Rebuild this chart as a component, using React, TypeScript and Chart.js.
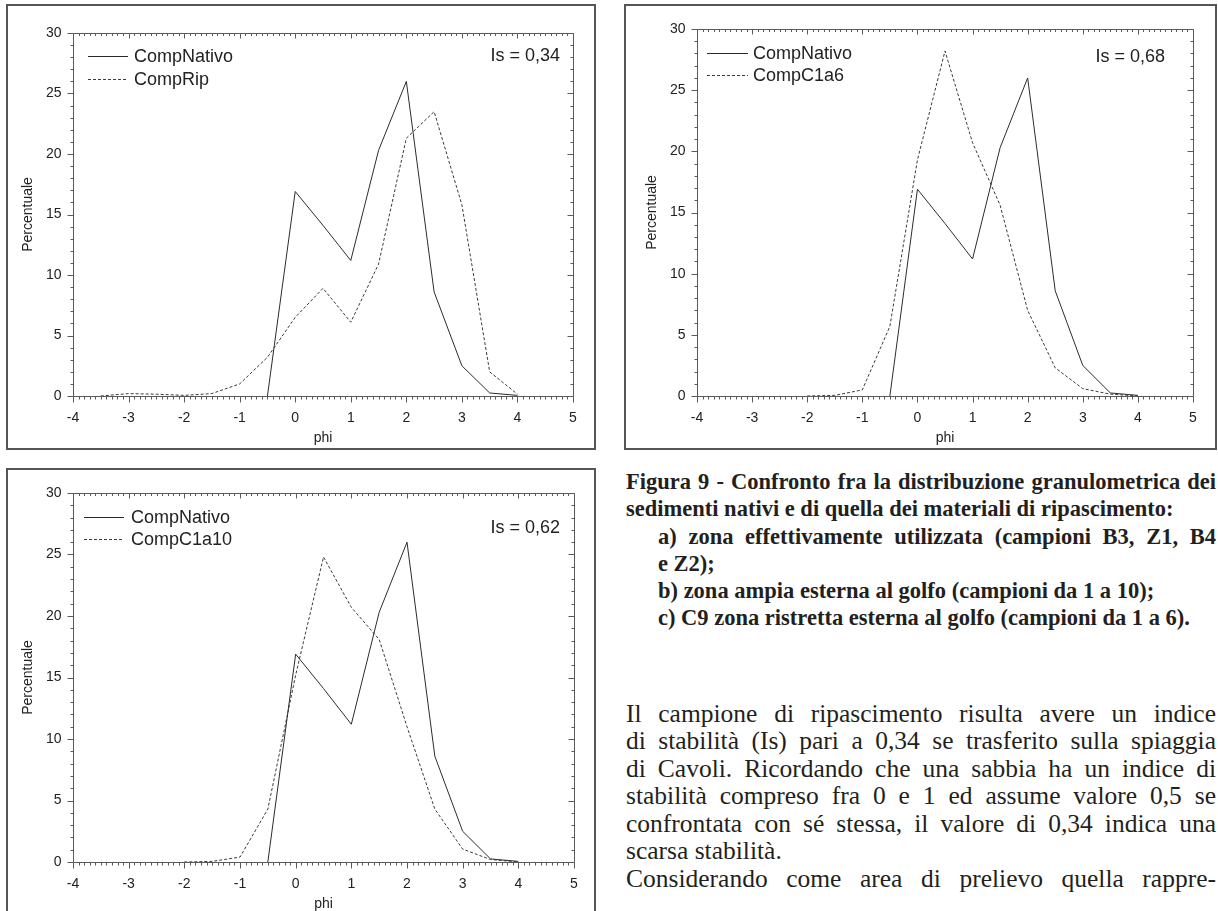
import React, { useEffect, useRef } from "react";
import { Chart, registerables } from "chart.js";

Chart.register(...registerables);

// ---- data ----
const phi = [-4, -3.5, -3, -2.5, -2, -1.5, -1, -0.5, 0, 0.5, 1, 1.5, 2, 2.5, 3, 3.5, 4];
const compNativo = [null, null, null, null, null, null, null, 0, 16.9, 14.1, 11.2, 20.3, 26.0, 8.6, 2.5, 0.25, 0.05];
const compRip = [null, 0, 0.2, 0.15, 0.05, 0.2, 1.0, 3.2, 6.5, 8.9, 6.1, 10.9, 21.3, 23.5, 15.8, 2.0, 0.15];
const compC1a6 = [null, null, null, null, 0, 0.05, 0.5, 5.7, 19.3, 28.2, 20.7, 15.6, 7.0, 2.3, 0.6, 0.15, 0];
const compC1a10 = [null, null, null, null, 0, 0.05, 0.4, 4.3, 15.2, 24.8, 20.7, 18.1, 11.0, 4.3, 1.05, 0.2, 0];

const xTickValues = [-4, -3, -2, -1, 0, 1, 2, 3, 4, 5];
const yTickValues = [0, 5, 10, 15, 20, 25, 30];
const xTitle = "phi";
const yTitle = "Percentuale";
const isLabels = ["Is = 0,34", "Is = 0,68", "Is = 0,62"];

const captionLines = [
  "Figura 9 - Confronto fra la distribuzione granulometrica dei",
  "sedimenti nativi e di quella dei materiali di ripascimento:",
  "a) zona effettivamente utilizzata (campioni B3, Z1, B4",
  "e Z2);",
  "b) zona ampia esterna al golfo (campioni da 1 a 10);",
  "c) C9 zona ristretta esterna al golfo (campioni da 1 a 6).",
];
const bodyLines = [
  "Il campione di ripascimento risulta avere un indice",
  "di stabilità (Is) pari a 0,34 se trasferito sulla spiaggia",
  "di Cavoli. Ricordando che una sabbia ha un indice di",
  "stabilità compreso fra 0 e 1 ed assume valore 0,5 se",
  "confrontata con sé stessa, il valore di 0,34 indica una",
  "scarsa stabilità.",
  "Considerando come area di prelievo quella rappre-",
];

// ---- styles ----
const SANS = "'Liberation Sans', Arial, sans-serif";
const SERIF = "'Liberation Serif', 'Times New Roman', serif";
const AXIS = "#5a5a5a";
const INK = "#222222";

const framePlugin = {
  id: "frame",
  afterDraw(chart: any) {
    const o = chart.options.plugins.frame;
    const ctx = chart.ctx;
    const a = chart.chartArea;
    const xs = chart.scales.x;
    const ys = chart.scales.y;
    ctx.save();
    ctx.strokeStyle = AXIS;
    ctx.lineWidth = 1;
    const L = Math.round(a.left) + 0.5;
    const R = Math.round(a.right) + 0.5;
    const T = Math.round(a.top) + 0.5;
    const B = Math.round(a.bottom) + 0.5;
    ctx.beginPath();
    ctx.rect(L, T, R - L, B - T);
    ctx.stroke();
    ctx.beginPath();
    for (let v = ys.min; v <= ys.max + 1e-9; v += 1) {
      const y = Math.round(ys.getPixelForValue(v)) + 0.5;
      const major = Math.abs(v % 5) < 1e-6;
      const len = major ? 6 : 3;
      ctx.moveTo(L - len, y);
      ctx.lineTo(L, y);
      ctx.moveTo(R - len, y);
      ctx.lineTo(R, y);
    }
    for (let i = Math.round(xs.min * 10); i <= Math.round(xs.max * 10); i++) {
      const x = Math.round(xs.getPixelForValue(i / 10)) + 0.5;
      const major = i % 10 === 0;
      const len = major ? 6 : 3;
      ctx.moveTo(x, B);
      ctx.lineTo(x, B + len);
      ctx.moveTo(x, T);
      ctx.lineTo(x, T + (major ? 5 : 2.5));
    }
    ctx.stroke();

    // legend
    ctx.font = `18px ${SANS}`;
    ctx.textBaseline = "middle";
    ctx.fillStyle = INK;
    chart.data.datasets.forEach((ds: any, i: number) => {
      const y = Math.round(a.top + o.rows[i]) + 0.5;
      ctx.save();
      ctx.strokeStyle = ds.borderColor;
      ctx.lineWidth = 1;
      ctx.setLineDash(ds.borderDash || []);
      ctx.beginPath();
      ctx.moveTo(a.left + o.s0, y);
      ctx.lineTo(a.left + o.s1, y);
      ctx.stroke();
      ctx.restore();
      ctx.textAlign = "left";
      ctx.fillText(ds.label, a.left + o.tx, y + 1);
    });
    ctx.textAlign = "right";
    ctx.fillText(o.isText, a.right - o.isDx, a.top + o.isDy);
    ctx.restore();
  },
};

type Box = { x: number; y: number; w: number; h: number };
type Plot = { l: number; t: number; r: number; b: number };

function Panel(props: {
  box: Box;
  plot: Plot;
  series: { label: string; data: (number | null)[]; dash: number[]; color: string }[];
  legend: { s0: number; s1: number; tx: number; rows: number[] };
  isText: string;
  isDx: number;
  isDy: number;
}) {
  const ref = useRef<HTMLCanvasElement>(null);
  const { box, plot } = props;
  const cw = box.w - 4;
  const ch = box.h - 4;
  useEffect(() => {
    const ox = box.x + 2;
    const oy = box.y + 2;
    const pl = plot.l - ox;
    const pt = plot.t - oy;
    const pr = plot.r - ox;
    const pb = plot.b - oy;
    const tickFont = { family: SANS, size: 14 };
    const titleFont = { family: SANS, size: 14 };
    const titleLH = 14 * 1.2;
    const xTitleCenter = plot.b + 42 - oy;
    const yTitleCenter = plot.l - 45 - ox;
    const chart = new Chart(ref.current as HTMLCanvasElement, {
      type: "line",
      data: {
        datasets: props.series.map((s) => ({
          label: s.label,
          data: phi.map((x, i) => ({ x, y: s.data[i] })),
          borderColor: s.color,
          borderWidth: 1,
          borderDash: s.dash,
          pointRadius: 0,
          fill: false,
          tension: 0,
        })),
      },
      plugins: [framePlugin],
      options: {
        responsive: false,
        animation: false,
        devicePixelRatio: 1,
        events: [],
        layout: { padding: { left: 0, top: pt, right: cw - pr, bottom: 0 } },
        plugins: {
          legend: { display: false },
          tooltip: { enabled: false },
          frame: {
            s0: props.legend.s0,
            s1: props.legend.s1,
            tx: props.legend.tx,
            rows: props.legend.rows,
            isText: props.isText,
            isDx: props.isDx,
            isDy: props.isDy,
          },
        } as any,
        scales: {
          x: {
            type: "linear",
            min: -4,
            max: 5,
            afterBuildTicks: (s: any) => {
              s.ticks = xTickValues.map((v) => ({ value: v }));
            },
            ticks: { font: tickFont, color: INK, padding: 8, maxRotation: 0, autoSkip: false },
            grid: { display: false, drawTicks: true, tickLength: 6 },
            border: { display: false },
            title: {
              display: true,
              text: xTitle,
              font: titleFont,
              color: INK,
              padding: { top: 0, bottom: ch - xTitleCenter - titleLH / 2 },
            },
            afterFit: (s: any) => {
              s.height = ch - pb;
            },
          },
          y: {
            type: "linear",
            min: 0,
            max: 30,
            afterBuildTicks: (s: any) => {
              s.ticks = yTickValues.map((v) => ({ value: v }));
            },
            ticks: { font: tickFont, color: INK, padding: 4.5, autoSkip: false },
            grid: { display: false, drawTicks: true, tickLength: 7 },
            border: { display: false },
            title: {
              display: true,
              text: yTitle,
              font: titleFont,
              color: INK,
              padding: { top: yTitleCenter - titleLH / 2, bottom: 0 },
            },
            afterFit: (s: any) => {
              s.width = pl;
            },
          },
        },
      } as any,
    });
    return () => chart.destroy();
  }, []);
  return (
    <div
      style={{
        position: "absolute",
        left: box.x,
        top: box.y,
        width: box.w,
        height: box.h,
        border: "2px solid #555",
        boxSizing: "border-box",
        background: "#fff",
      }}
    >
      <canvas ref={ref} width={cw} height={ch} style={{ display: "block", width: cw, height: ch }} />
    </div>
  );
}

const SOLID = "#2b2b2b";
const DASHED = "#3a3a3a";

function Line(props: { text: string; left: number; right: number; center: number; justify: boolean; bold?: boolean; size: number }) {
  const lh = 27;
  return (
    <div
      style={{
        position: "absolute",
        left: props.left,
        width: props.right - props.left,
        top: props.center - lh / 2,
        height: lh,
        lineHeight: `${lh}px`,
        fontFamily: SERIF,
        fontWeight: props.bold ? 700 : 400,
        fontSize: props.size,
        color: "#231f20",
        textAlign: props.justify ? "justify" : "left",
        textAlignLast: props.justify ? "justify" : "left",
      } as any}
    >
      {props.text}
    </div>
  );
}

export default function App() {
  const capCenters = [481, 508, 536, 563, 590, 617];
  const capLeft = [626, 626, 658, 658, 658, 658];
  const capJustify = [true, false, true, false, false, false];
  const bodyCenters = [713, 740, 768, 795, 823, 850, 878];
  const bodyJustify = [true, true, true, true, true, false, true];
  return (
    <div
      style={{
        position: "fixed",
        left: 0,
        top: 0,
        width: 1218,
        height: 911,
        overflow: "hidden",
        background: "#fff",
      }}
    >
      <Panel
        box={{ x: 6, y: 4, w: 590, h: 446 }}
        plot={{ l: 73, t: 33, r: 573, b: 396 }}
        series={[
          { label: "CompNativo", data: compNativo, dash: [], color: SOLID },
          { label: "CompRip", data: compRip, dash: [3, 2], color: DASHED },
        ]}
        legend={{ s0: 15, s1: 55, tx: 61, rows: [23, 46] }}
        isText={isLabels[0]}
        isDx={13}
        isDy={23}
      />
      <Panel
        box={{ x: 624, y: 4, w: 593, h: 446 }}
        plot={{ l: 697, t: 29, r: 1193, b: 396 }}
        series={[
          { label: "CompNativo", data: compNativo, dash: [], color: SOLID },
          { label: "CompC1a6", data: compC1a6, dash: [3, 2], color: DASHED },
        ]}
        legend={{ s0: 10, s1: 51, tx: 56, rows: [24, 46] }}
        isText={isLabels[1]}
        isDx={28}
        isDy={28}
      />
      <Panel
        box={{ x: 6, y: 468, w: 590, h: 452 }}
        plot={{ l: 73, t: 493, r: 574, b: 862 }}
        series={[
          { label: "CompNativo", data: compNativo, dash: [], color: SOLID },
          { label: "CompC1a10", data: compC1a10, dash: [3, 2], color: DASHED },
        ]}
        legend={{ s0: 11, s1: 51, tx: 58, rows: [24, 46] }}
        isText={isLabels[2]}
        isDx={14}
        isDy={35}
      />
      {captionLines.map((t, i) => (
        <Line key={"c" + i} text={t} left={capLeft[i]} right={1216} center={capCenters[i]} justify={capJustify[i]} bold size={22.5} />
      ))}
      {bodyLines.map((t, i) => (
        <Line key={"b" + i} text={t} left={626} right={1216} center={bodyCenters[i]} justify={bodyJustify[i]} size={25.5} />
      ))}
    </div>
  );
}
